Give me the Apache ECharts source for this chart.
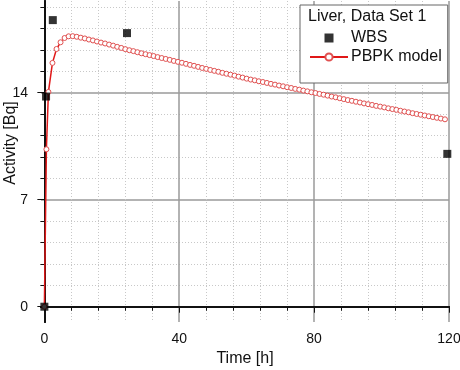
<!DOCTYPE html>
<html>
<head>
<meta charset="utf-8">
<script src="https://cdn.jsdelivr.net/npm/echarts@6/dist/echarts.min.js"></script>
<style>
  html, body { margin: 0; padding: 0; background: #fff; }
  #main { width: 460px; height: 370px; }
</style>
</head>
<body>
<div id="main"></div>
<script>
// 实测数据 WBS
var wbsTime = [0, 0.5, 2.5, 24.5, 119.5]
var wbsActivity = [0, 13.75, 18.75, 17.9, 10.0]

// PBPK 模型曲线
var modelTime = [0, 0.6, 1.2, 2.4, 3.6, 4.8, 6.0, 7.2, 8.4, 9.6, 10.8,
    12.0, 13.2, 14.4, 15.6, 16.8, 18.0, 19.2, 20.4, 21.6, 22.8,
    24.0, 25.2, 26.4, 27.6, 28.8, 30.0, 31.2, 32.4, 33.6, 34.8,
    36.0, 37.2, 38.4, 39.6, 40.8, 42.0, 43.2, 44.4, 45.6, 46.8,
    48.0, 49.2, 50.4, 51.6, 52.8, 54.0, 55.2, 56.4, 57.6, 58.8,
    60.0, 61.2, 62.4, 63.6, 64.8, 66.0, 67.2, 68.4, 69.6, 70.8,
    72.0, 73.2, 74.4, 75.6, 76.8, 78.0, 79.2, 80.4, 81.6, 82.8,
    84.0, 85.2, 86.4, 87.6, 88.8, 90.0, 91.2, 92.4, 93.6, 94.8,
    96.0, 97.2, 98.4, 99.6, 100.8, 102.0, 103.2, 104.4, 105.6, 106.8,
    108.0, 109.2, 110.4, 111.6, 112.8, 114.0, 115.2, 116.4, 117.6, 118.8]
var modelActivity = [0, 10.3, 14.05, 15.95, 16.86, 17.30, 17.58, 17.69, 17.70, 17.66, 17.60,
    17.55, 17.48, 17.42, 17.35, 17.28, 17.22, 17.15, 17.08, 17.00, 16.93,
    16.85, 16.78, 16.72, 16.65, 16.58, 16.52, 16.46, 16.40, 16.33, 16.27,
    16.21, 16.15, 16.08, 16.02, 15.96, 15.89, 15.82, 15.76, 15.69, 15.62,
    15.56, 15.49, 15.43, 15.37, 15.30, 15.24, 15.18, 15.12, 15.05, 14.99,
    14.92, 14.86, 14.81, 14.75, 14.70, 14.64, 14.58, 14.53, 14.47, 14.42,
    14.36, 14.31, 14.25, 14.20, 14.14, 14.09, 14.03, 13.98, 13.92, 13.87,
    13.81, 13.75, 13.70, 13.64, 13.58, 13.52, 13.47, 13.41, 13.36, 13.30,
    13.25, 13.20, 13.14, 13.09, 13.04, 12.98, 12.93, 12.88, 12.82, 12.77,
    12.72, 12.66, 12.61, 12.56, 12.51, 12.46, 12.41, 12.36, 12.31, 12.26]

// 刻度
var xMajorTicks = [0, 40, 80, 120]
var xMinorTicks = [8, 16, 24, 32, 48, 56, 64, 72, 88, 96, 104, 112]
var yMajorTicks = [0, 7, 14]
var yMinorTicks = [1.4, 2.8, 4.2, 5.6, 8.4, 9.8, 11.2, 12.6, 15.4, 16.8, 18.2, 19.6]

var FONT = 'Liberation Sans'

var chart = echarts.init(document.getElementById('main'))

function zip(xs, ys) {
    return xs.map(function (x, i) { return [x, ys[i]] })
}

// 次刻度轴 (虚线网格)
function minorAxis(min, max, ticks, pos) {
    return {
        type: 'value', position: pos, min: min, max: max,
        axisLine: { show: true, lineStyle: { color: '#111', width: 2 } },
        axisTick: { show: true, customValues: ticks, inside: false, length: 4, lineStyle: { color: '#111', width: 1 } },
        axisLabel: { show: false },
        splitLine: { show: true, lineStyle: { color: '#c8c8c8', type: [1, 2], width: 1 } }
    }
}

var option = {
    animation: false,
    backgroundColor: '#fff',
    textStyle: { fontFamily: FONT },
    grid: { left: 41, right: 11, top: 1, bottom: 48, containLabel: false, outerBoundsMode: 'none' },
    title: {
        text: 'Liver, Data Set 1',
        left: 308, top: 9, padding: 0,
        textStyle: { fontFamily: FONT, fontSize: 16, fontWeight: 'normal', color: '#111' }
    },
    legend: {
        orient: 'vertical',
        left: 300, top: 5,
        padding: [25, 6, 18, 9],
        backgroundColor: '#fff',
        borderColor: '#666', borderWidth: 1, borderRadius: 0,
        itemWidth: 38, itemHeight: 9, itemGap: 3,
        symbolKeepAspect: true,
        textStyle: { fontFamily: FONT, fontSize: 16, color: '#111', lineHeight: 16, padding: [0, 0, 0, -2] },
        data: [
            { name: 'WBS', icon: 'path://M0,0L10,0L10,10L0,10Z' },
            'PBPK model'
        ]
    },
    graphic: [{
        type: 'text',
        x: 11, y: 143,
        rotation: Math.PI / 2,
        style: {
            text: 'Activity [Bq]', fontFamily: FONT, fontSize: 16, fill: '#111',
            align: 'center', verticalAlign: 'middle'
        }
    }],
    xAxis: [
        minorAxis(-1, 120, xMinorTicks, 'bottom'),
        {
            type: 'value', position: 'bottom', min: -1, max: 120,
            name: 'Time [h]', nameLocation: 'middle', nameGap: 27,
            nameTextStyle: { fontFamily: FONT, fontSize: 16, color: '#111' },
            axisLine: { show: true, lineStyle: { color: '#111', width: 2 } },
            axisTick: { show: true, customValues: xMajorTicks, length: 6, lineStyle: { color: '#111', width: 1 } },
            axisLabel: { customValues: xMajorTicks, margin: 10, fontFamily: FONT, fontSize: 14, color: '#111' },
            splitLine: { show: true, lineStyle: { color: '#9a9a9a', width: 1.5 } }
        }
    ],
    yAxis: [
        minorAxis(-1, 20, yMinorTicks, 'left'),
        {
            type: 'value', position: 'left', min: -1, max: 20,
            axisLine: { show: true, lineStyle: { color: '#111', width: 2 } },
            axisTick: { show: true, customValues: yMajorTicks, length: 7, lineStyle: { color: '#111', width: 1 } },
            axisLabel: { customValues: yMajorTicks, margin: 13, fontFamily: FONT, fontSize: 14, color: '#111' },
            splitLine: { show: true, lineStyle: { color: '#9a9a9a', width: 1.5 } }
        }
    ],
    series: [
        {
            name: 'PBPK model',
            type: 'line',
            xAxisIndex: 0, yAxisIndex: 0,
            data: zip(modelTime, modelActivity),
            showSymbol: true,
            symbol: 'circle', symbolSize: 5,
            lineStyle: { color: '#e01818', width: 1.5 },
            itemStyle: { color: '#fff', borderColor: '#e05050', borderWidth: 1 },
            z: 3
        },
        {
            name: 'WBS',
            type: 'scatter',
            xAxisIndex: 0, yAxisIndex: 0,
            data: zip(wbsTime, wbsActivity),
            symbol: 'rect', symbolSize: 8,
            itemStyle: { color: '#000' },
            z: 4
        }
    ]
}

chart.setOption(option)
</script>
</body>
</html>
